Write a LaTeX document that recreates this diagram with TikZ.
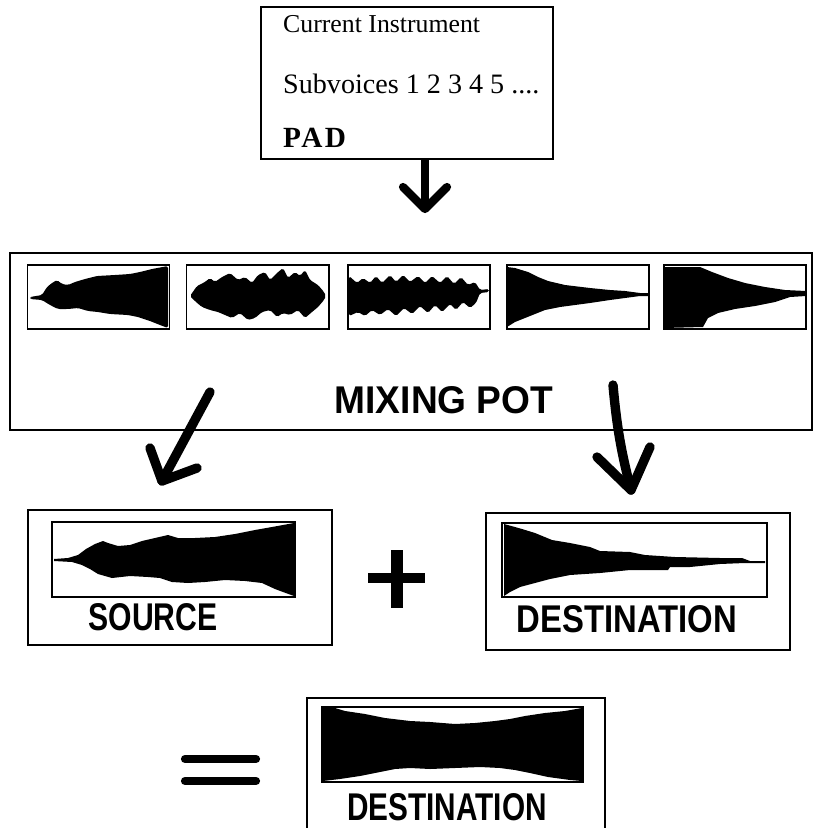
\documentclass[tikz,border=0pt]{standalone}
\usepackage{fontspec}
\setmainfont{Liberation Serif}
\newfontfamily\labfont{Liberation Sans}

\newcommand{\px}{0.3mm}
\tikzset{
  pane/.style={draw, line width=2.2pt, inner sep=0pt},
  thumb/.style={draw, line width=1.7pt, inner sep=0pt},
  box/.style 2 args={minimum width=#1*\px, minimum height=#2*\px},
  lab/.style={anchor=base, inner sep=0pt, font=\labfont\bfseries\fontsize{33}{33}\selectfont},
  line/.style={anchor=base west, inner sep=0pt},
  wave/.style={fill=black, rounded corners=1.5pt},
  hand/.style={line width=8pt, line cap=round, line join=round},
}

\begin{document}
\begin{tikzpicture}[x=0.3mm, y=-0.3mm]
\usetikzlibrary{calc}
\useasboundingbox (0,0) rectangle (814,828);

% instrument box
\node [pane, box={292}{152}] (instr) at (407,83) {};
\node [line, font=\fontsize{22}{22}\selectfont] (curinst) at (283,33) {Current Instrument};
\node [line, font=\fontsize{24}{24}\selectfont] (subv) at (283,93) {Subvoices 1 2 3 4 5 ....};
\node [line, font=\fontsize{25}{25}\selectfont\bfseries\addfontfeatures{LetterSpace=8}] (pad) at (283,147) {PAD};

% draw arrow
\coordinate (padtip) at (425,209);
\draw [line width=6pt] (instr.south -| padtip) -- (padtip);
\draw [hand, line width=7pt] ($(padtip)+(-22,-22)$) -- (padtip) -- ($(padtip)+(22,-22)$);

% mixing pot
\node [pane, box={802}{177}] (mix) at (411,341.5) {};
\foreach \cx/\nm in {98.5/wa, 257.5/wb, 419/wc, 578/wd, 735/we}
  \node [thumb, box={142}{64}] (\nm) at (\cx,297) {};
\node [lab] (mixlab) at (444,413) {\scalebox{0.96}[1]{MIXING POT}};

% waveforms in the pot
\fill [wave] (30,297) -- (42,295) -- (47,287) -- (52,283) -- (57,280) -- (62,284) -- (68,285)
  -- (75,282) -- (85,279) -- (97,276) -- (115,275) -- (130,274) -- (140,272) -- (152,269)
  -- (168,266) -- (168,328) -- (160,325) -- (150,321) -- (138,317) -- (128,315) -- (110,314)
  -- (98,312) -- (88,311) -- (78,308) -- (68,309) -- (58,309) -- (50,305) -- (42,300)
  -- (30,299) -- cycle;
\fill [wave] (190,296) -- (197,286) -- (205,282) -- (210,278) -- (215,282) -- (222,277) -- (230,273)
  -- (238,280) -- (245,277) -- (252,283) -- (258,275) -- (265,272) -- (270,280) -- (277,273)
  -- (283,268) -- (288,278) -- (295,272) -- (300,276) -- (305,270) -- (310,280) -- (318,285)
  -- (324,292) -- (326,296) -- (324,300) -- (318,307) -- (312,312) -- (305,318) -- (298,310)
  -- (290,315) -- (283,313) -- (277,317) -- (270,310) -- (262,312) -- (255,318) -- (248,320)
  -- (240,313) -- (232,318) -- (225,315) -- (218,312) -- (210,310) -- (202,307) -- (196,302)
  -- cycle;
\fill [wave] (349,276) -- (357,283) -- (363,278) -- (370,283) -- (376,276) -- (382,283) -- (390,275)
  -- (396,282) -- (403,275) -- (410,282) -- (418,276) -- (425,283) -- (432,276) -- (440,283)
  -- (447,276) -- (454,284) -- (461,277) -- (468,285) -- (475,282) -- (480,290) -- (489,289)
  -- (489,292) -- (480,293) -- (476,303) -- (470,308) -- (463,302) -- (456,310) -- (450,304)
  -- (442,312) -- (435,305) -- (428,313) -- (420,306) -- (412,314) -- (404,308) -- (396,316)
  -- (388,309) -- (380,315) -- (372,310) -- (365,316) -- (358,312) -- (349,316) -- cycle;
\fill (507,267) -- (515,268) -- (528,272) -- (538,277) -- (548,281) -- (565,285) -- (590,288)
  -- (610,290) -- (625,291) -- (640,293) -- (649,293) -- (649,296) -- (640,296) -- (625,298)
  -- (610,300) -- (590,303) -- (575,305) -- (560,307) -- (545,310) -- (535,314) -- (525,318)
  -- (515,322) -- (507,327) -- cycle;
\fill (664,267) -- (700,267) -- (712,272) -- (728,278) -- (745,283) -- (765,287) -- (785,290)
  -- (806,291) -- (806,296) -- (790,297) -- (775,302) -- (755,306) -- (735,309) -- (718,313)
  -- (708,318) -- (703,327) -- (664,328) -- cycle;

% hand drawn arrows
\coordinate (srcfrom) at (210,392);
\coordinate (srctip) at (162,481);
\draw [hand] (srcfrom) -- (srctip);
\draw [hand] ($(srctip)+(-12,-33)$) -- (srctip) -- ($(srctip)+(35,-13)$);
\coordinate (dstfrom) at (613,385);
\coordinate (dsttip) at (631,490);
\draw [hand] (dstfrom) .. controls (617,430) and (622,455) .. (dsttip);
\draw [hand] ($(dsttip)+(-34,-33)$) -- (dsttip) -- ($(dsttip)+(19,-43)$);

% source
\node [pane, box={304}{135}] (src) at (180,577.5) {};
\node [thumb, box={243}{75}] (srcwave) at (173.5,559.5) {};
\node [lab] (srclab) at (153,630) {\scalebox{0.78}[1]{SOURCE}};
\fill (54,559) -- (68,558) -- (78,555) -- (86,549) -- (95,544) -- (103,541) -- (108,543)
  -- (118,546) -- (130,545) -- (142,541) -- (155,538) -- (168,535) -- (178,538) -- (195,538)
  -- (215,537) -- (235,534) -- (255,530) -- (272,527) -- (283,525) -- (294,523) -- (294,596)
  -- (283,592) -- (275,589) -- (262,583) -- (245,581) -- (225,580) -- (205,582) -- (188,583)
  -- (172,582) -- (160,578) -- (148,577) -- (130,576) -- (112,578) -- (98,574) -- (90,569)
  -- (82,565) -- (72,562) -- (54,561) -- cycle;

% plus
\coordinate (plt) at (397,550);
\coordinate (plb) at (397,608);
\coordinate (pll) at (368,578);
\coordinate (plr) at (425,578);
\draw [line width=10pt] (plt) -- (plb);
\draw [line width=9pt] (pll) -- (plr);

% destination
\node [pane, box={304}{137}] (dst) at (638,581.5) {};
\node [thumb, box={265}{74}] (dstwave) at (634.5,560) {};
\node [lab] (dstlab) at (627,632) {\scalebox{0.85}[1]{DESTINATION}};
\fill (504,524) -- (515,527) -- (522,529) -- (535,533) -- (552,540) -- (570,543) -- (590,547)
  -- (600,551) -- (630,552) -- (645,555) -- (675,557) -- (720,558) -- (742,558) -- (750,561)
  -- (765,561) -- (765,563) -- (745,563) -- (720,564) -- (690,567) -- (670,567) -- (668,570)
  -- (630,570) -- (600,573) -- (570,575) -- (550,579) -- (535,583) -- (520,587) -- (510,592)
  -- (504,596) -- cycle;

% equals
\draw [line width=7pt, line cap=round] (185,759) -- (256,759);
\draw [line width=7pt, line cap=round] (185,781) -- (256,781);

% result
\node [pane, box={298}{150}] (res) at (456,773) {};
\node [thumb, box={261}{75}] (reswave) at (452.5,744.5) {};
\node [lab] (reslab) at (447,820) {\scalebox{0.77}[1]{DESTINATION}};
\fill (323,708) -- (335,708) -- (345,711) -- (365,714) -- (385,718) -- (410,721) -- (430,722)
  -- (455,724) -- (475,723) -- (495,721) -- (510,719) -- (525,716) -- (545,713) -- (565,711)
  -- (582,708) -- (582,781) -- (570,780) -- (548,777) -- (530,773) -- (515,770) -- (500,768)
  -- (480,767) -- (455,768) -- (430,769) -- (410,768) -- (395,769) -- (380,772) -- (360,776)
  -- (340,779) -- (323,781) -- cycle;

\end{tikzpicture}
\end{document}
